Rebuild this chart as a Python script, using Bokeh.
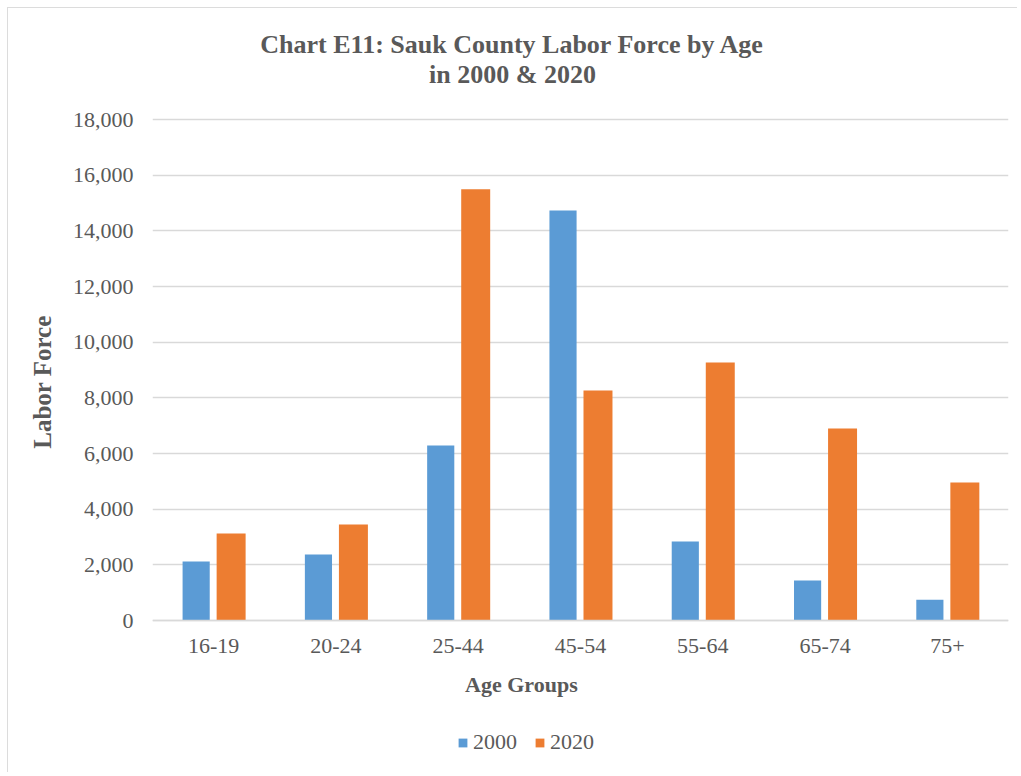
from bokeh.plotting import figure
from bokeh.models import (ColumnDataSource, FactorRange, Range1d, NumeralTickFormatter,
                          Label, Legend, LegendItem, FixedTicker)
from bokeh.transform import dodge
from bokeh.embed import file_html
from bokeh.resources import INLINE

# ---- data ----
age_groups = ["16-19", "20-24", "25-44", "45-54", "55-64", "65-74", "75+"]
labor_2000 = [2120, 2370, 6290, 14730, 2840, 1440, 750]
labor_2020 = [3125, 3450, 15490, 8265, 9270, 6900, 4960]
series_names = ["2000", "2020"]
y_ticks = [0, 2000, 4000, 6000, 8000, 10000, 12000, 14000, 16000, 18000]

TEXT = "#595959"
FONT = "Liberation Serif"
BLUE = "#5B9BD5"
ORANGE = "#ED7D31"

W, H = 1010, 765            # figure placed at page offset (8, 8)
FRAME_BOTTOM = 747          # figure pixels
K = 18000 / 501.0           # data units per pixel (0 at y=612, 18000 at y=111 in figure px)
Y_END = 18000 + 111 * K
Y_START = -(FRAME_BOTTOM - 612) * K

src = ColumnDataSource(dict(age=age_groups, y2000=labor_2000, y2020=labor_2020))

p = figure(width=W, height=H,
           x_range=FactorRange(*age_groups, range_padding=0, factor_padding=0),
           y_range=Range1d(Y_START, Y_END),
           output_backend="svg", toolbar_location=None,
           min_border_left=144, min_border_right=W - 1000,
           min_border_top=0, min_border_bottom=H - FRAME_BOTTOM)
p.styles = {"margin-left": "7px", "margin-top": "7px",
            "border-left": "1px solid #dcdcdc", "border-top": "1px solid #dcdcdc"}
p.outline_line_color = None
p.background_fill_color = "white"
p.border_fill_color = "white"

r1 = p.vbar(x=dodge("age", -0.143, range=p.x_range), top="y2000", width=0.222,
            source=src, color=BLUE, line_color=None)
r2 = p.vbar(x=dodge("age", 0.143, range=p.x_range), top="y2020", width=0.237,
            source=src, color=ORANGE, line_color=None)

# grid
p.xgrid.grid_line_color = None
p.ygrid.grid_line_color = "#d9d9d9"
p.ygrid.grid_line_width = 1.5
p.ygrid.ticker = FixedTicker(ticks=y_ticks)

# y axis
p.yaxis.ticker = FixedTicker(ticks=y_ticks)
p.yaxis.formatter = NumeralTickFormatter(format="0,0")
p.yaxis.axis_line_color = None
p.yaxis.major_tick_line_color = None
p.yaxis.minor_tick_line_color = None
p.yaxis.major_label_standoff = 13
p.yaxis.major_label_text_font = FONT
p.yaxis.major_label_text_font_size = "22px"
p.yaxis.major_label_text_color = TEXT
p.yaxis.axis_label = "Labor Force"
p.yaxis.axis_label_text_font = FONT
p.yaxis.axis_label_text_font_style = "bold"
p.yaxis.axis_label_text_font_size = "25px"
p.yaxis.axis_label_text_color = TEXT
p.yaxis.axis_label_standoff = 14

# x axis, pinned at y = 0 inside the frame
p.xaxis.fixed_location = 0
p.xaxis.axis_line_color = "#d9d9d9"
p.xaxis.axis_line_width = 1.5
p.xaxis.major_tick_line_color = None
p.xaxis.minor_tick_line_color = None
p.xaxis.major_label_standoff = 12
p.xaxis.major_label_text_font = FONT
p.xaxis.major_label_text_font_size = "22px"
p.xaxis.major_label_text_color = TEXT

# x axis title (centered on the whole chart like the reference)
p.add_layout(Label(x=3.017, y=-2300, text="Age Groups", text_align="center",
                   text_baseline="middle", text_font=FONT, text_font_style="bold",
                   text_font_size="22px", text_color=TEXT))

# chart title
p.add_layout(Label(x=2.944, y=20695, text="Chart E11: Sauk County Labor Force by Age",
                   text_align="center", text_baseline="middle", text_font=FONT,
                   text_font_style="bold", text_font_size="26px", text_color=TEXT))
p.add_layout(Label(x=2.944, y=19617, text="in 2000 & 2020",
                   text_align="center", text_baseline="middle", text_font=FONT,
                   text_font_style="bold", text_font_size="26px", text_color=TEXT))

legend = Legend(items=[LegendItem(label=series_names[0], renderers=[r1]),
                       LegendItem(label=series_names[1], renderers=[r2])],
                location=(305, 0), orientation="horizontal",
                padding=0, margin=0, spacing=17, label_standoff=5,
                glyph_width=11, glyph_height=11,
                label_text_font=FONT, label_text_font_size="22px",
                label_text_color=TEXT, border_line_color=None,
                background_fill_alpha=0)
p.add_layout(legend, "center")

open("out.html", "w").write(file_html(p, INLINE))
